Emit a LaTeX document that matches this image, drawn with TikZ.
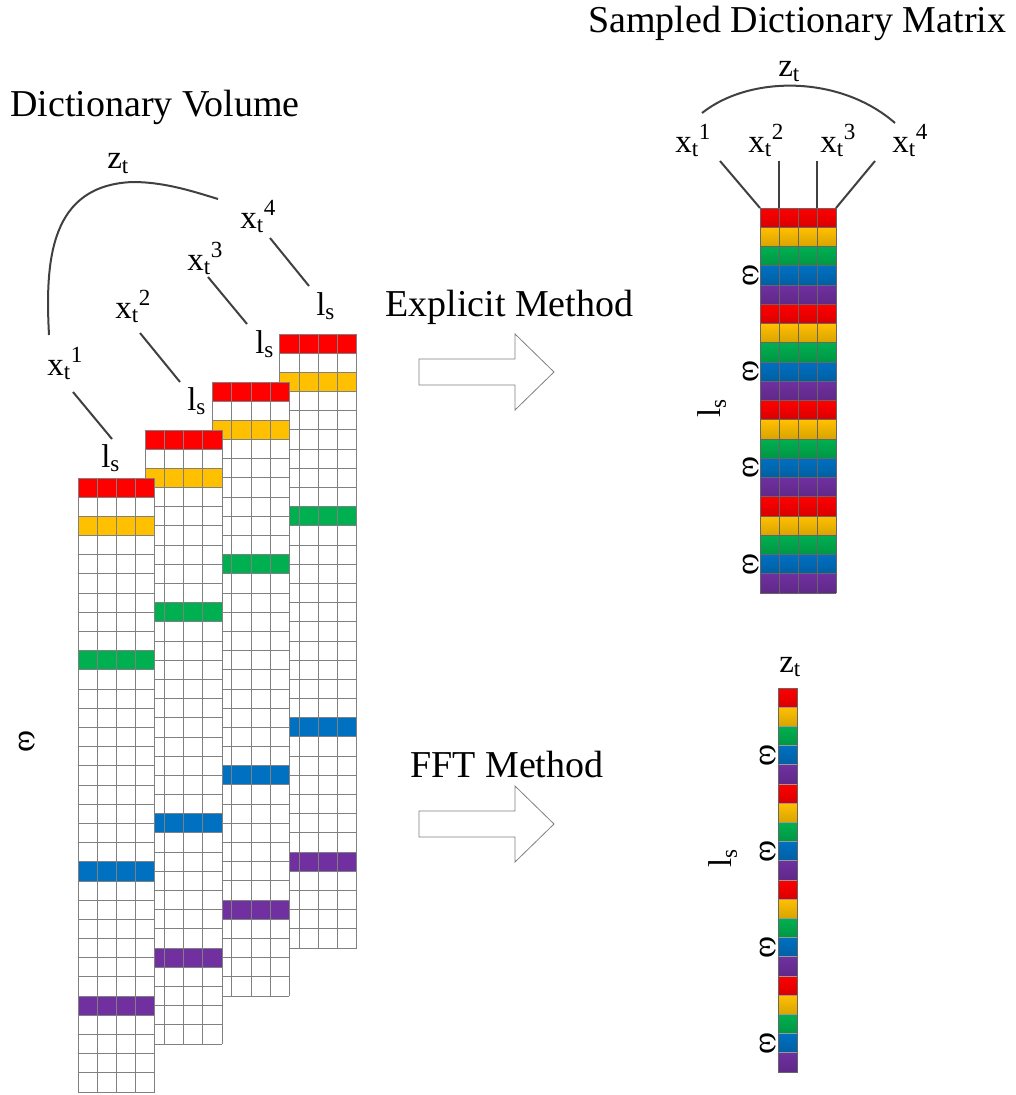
\documentclass[tikz,border=0pt]{standalone}
\usepackage{fontspec}
\setmainfont{Liberation Serif}

\definecolor{cred}{HTML}{FF0000}
\definecolor{cyellow}{HTML}{FFC000}
\definecolor{cgreen}{HTML}{00B050}
\definecolor{cblue}{HTML}{0070C0}
\definecolor{cpurple}{HTML}{7030A0}
\definecolor{gridgray}{HTML}{808080}

\tikzset{
  title/.style={font=\fontsize{28.5}{34}\selectfont, inner sep=0pt},
  lbl/.style={font=\fontsize{24.75}{30}\selectfont, inner sep=0pt},
  omega/.style={font=\fontsize{25}{30}\selectfont, inner sep=0pt, rotate=-90},
  link/.style={draw=black!75, line width=1.5pt},
  cellgrid/.style={draw=gridgray, line width=0.75pt},
  matgrid/.style={draw=black!60, line width=0.75pt},
  bigarrow/.style={draw=gray, line width=0.6pt, fill=white}
}

\begin{document}
\begin{tikzpicture}[x=0.75pt,y=-0.75pt]
\useasboundingbox (0,0) rectangle (1016,1095);

% Size of one cell
\def\cw{19.2}
\def\ch{19.19}

% Titles
\node[title, anchor=base west] (voltitle) at (10,117) {Dictionary Volume};
\node[title, anchor=base west] (mattitle) at (588,33) {Sampled Dictionary Matrix};

% Draw the dictionary volume, back slice first
\foreach \k in {3,2,1,0} {
  \begin{scope}[shift={({78+67.3*\k},{478-48*\k})}]
    \fill[white] (0,0) rectangle ({4*\cw},{32*\ch});
    \foreach \r/\col in {0/cred,2/cyellow,9/cgreen,20/cblue,27/cpurple}
      \fill[\col] (0,{\r*\ch}) rectangle ({4*\cw},{(\r+1)*\ch});
    \foreach \r in {0,...,32}
      \draw[cellgrid] (0,{\r*\ch}) -- ({4*\cw},{\r*\ch});
    \foreach \i in {0,...,4}
      \draw[cellgrid] ({\i*\cw},0) -- ({\i*\cw},{32*\ch});
  \end{scope}
}

% Labels of the volume
\node[lbl, anchor=base west] (x1) at (47,375) {x\textsubscript{t}\textsuperscript{1}};
\node[lbl, anchor=base west] (x2) at (115,318) {x\textsubscript{t}\textsuperscript{2}};
\node[lbl, anchor=base west] (x3) at (187,270) {x\textsubscript{t}\textsuperscript{3}};
\node[lbl, anchor=base west] (x4) at (240,228) {x\textsubscript{t}\textsuperscript{4}};
\node[lbl, anchor=base west] (ls1) at (101,467) {l\textsubscript{s}};
\node[lbl, anchor=base west] (ls2) at (187,410) {l\textsubscript{s}};
\node[lbl, anchor=base west] (ls3) at (255,353) {l\textsubscript{s}};
\node[lbl, anchor=base west] (ls4) at (316,315) {l\textsubscript{s}};
\node[lbl, anchor=base west] (zvol) at (107,169) {z\textsubscript{t}};
\node[omega] (wvol) at (27,741) {ω};

% Connectors of the volume
\coordinate (a1) at (73,392);  \coordinate (b1) at (112,439);
\coordinate (a2) at (140,333); \coordinate (b2) at (180,382);
\coordinate (a3) at (208,277); \coordinate (b3) at (247,324);
\coordinate (a4) at (270,238); \coordinate (b4) at (309,286);
\foreach \i in {1,...,4}
  \draw[link] (a\i) -- (b\i);
\coordinate (zl) at (49,335);
\coordinate (zm) at (133,182);
\coordinate (zr) at (218,199);
\draw[link] (zl) .. controls (45,260) and (50,185) .. (zm)
  .. controls (165,182) and (195,192) .. (zr);

% Hollow arrows and method names
\foreach \y in {372,824}
  \draw[bigarrow] (419,{\y-13}) -- (515,{\y-13}) -- (515,{\y-38}) -- (554,\y)
    -- (515,{\y+38}) -- (515,{\y+13}) -- (419,{\y+13}) -- cycle;
\node[title, anchor=base west] (explicit) at (385,316) {Explicit Method};
\node[title, anchor=base west] (fftm) at (410,777) {FFT Method};

% Sampled dictionary matrix
\foreach \g in {0,...,3}
  \foreach \r/\col in {0/cred,1/cyellow,2/cgreen,3/cblue,4/cpurple}
    \shade[top color=\col, bottom color=\col!85!black]
      (760,{208+(5*\g+\r)*19.25}) rectangle (836,{208+(5*\g+\r+1)*19.25});
\foreach \r in {0,...,20}
  \draw[matgrid] (760,{208+\r*19.25}) -- (836,{208+\r*19.25});
\foreach \i in {0,...,4}
  \draw[matgrid] ({760+\i*19},208) -- ({760+\i*19},593);
\foreach \i in {0,...,4}
  \coordinate (m\i) at ({760+\i*19},208);

% Labels of the matrix
\node[lbl, anchor=base west] (y1) at (675,152) {x\textsubscript{t}\textsuperscript{1}};
\node[lbl, anchor=base west] (y2) at (748,152) {x\textsubscript{t}\textsuperscript{2}};
\node[lbl, anchor=base west] (y3) at (820,152) {x\textsubscript{t}\textsuperscript{3}};
\node[lbl, anchor=base west] (y4) at (892,152) {x\textsubscript{t}\textsuperscript{4}};
\node[lbl, anchor=base west] (zmat) at (778,77) {z\textsubscript{t}};
\node[lbl, rotate=90] (lsmat) at (712,408) {l\textsubscript{s}};
\foreach \g in {0,...,3}
  \node[omega] (wm\g) at (751,{208+(5*\g+3.5)*19.25}) {ω};

% Connectors of the matrix
\coordinate (p1) at (720,161);
\coordinate (p2) at (779,161);
\coordinate (p3) at (817,161);
\coordinate (p4) at (875,161);
\draw[link] (p1) -- (m0);
\draw[link] (p2) -- (m1);
\draw[link] (p3) -- (m3);
\draw[link] (p4) -- (m4);
\coordinate (al) at (702,113);
\coordinate (ar) at (895,123);
\draw[link] (al) .. controls (750,75) and (840,75) .. (ar);

% FFT vector
\foreach \g in {0,...,3}
  \foreach \r/\col in {0/cred,1/cyellow,2/cgreen,3/cblue,4/cpurple}
    \shade[top color=\col, bottom color=\col!85!black]
      (778,{688+(5*\g+\r)*19.2}) rectangle (797,{688+(5*\g+\r+1)*19.2});
\foreach \r in {0,...,20}
  \draw[matgrid, draw=black!40] (778,{688+\r*19.2}) -- (797,{688+\r*19.2});
\draw[matgrid] (778,688) rectangle (797,1072);
\node[lbl, anchor=base west] (zfft) at (779,672) {z\textsubscript{t}};
\node[lbl, rotate=90] (lsfft) at (723,858) {l\textsubscript{s}};
\foreach \g in {0,...,3}
  \node[omega] (wf\g) at (768,{688+(5*\g+3.5)*19.2}) {ω};

\end{tikzpicture}
\end{document}
